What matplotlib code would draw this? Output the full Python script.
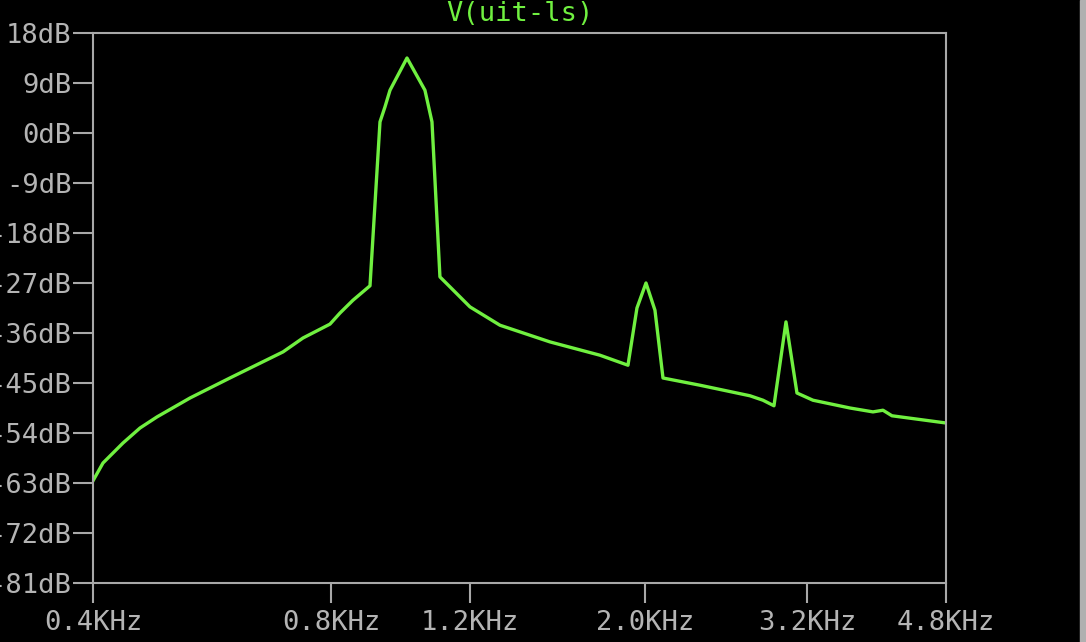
import matplotlib.pyplot as plt
from matplotlib.patches import Rectangle

# spectrum of V(uit-ls)
freq_hz = [400, 411.8, 436.5, 458.7, 482, 530.6, 596, 695.8, 737.4, 797.8, 821.4, 853,
           896.4, 922.9, 936.4, 950.2, 998.4, 1052, 1073.8, 1099, 1131.6, 1199.5, 1309,
           1514, 1751.8, 1900.6, 1951, 2003, 2056, 2104.7, 2344, 2711.7, 2816.5, 2908,
           3011.5, 3109.5, 3257.8, 3628.6, 3880, 3995, 4100.8, 4800]
level_db = [-62.6, -59.4, -55.8, -53.1, -51.1, -47.7, -44.1, -39.4, -36.9, -34.4, -32.4, -30.1,
            -27.5, 2.0, 4.7, 7.7, 13.5, 7.7, 2.0, -25.9, -27.7, -31.3, -34.6,
            -37.6, -40.0, -41.8, -31.5, -27.0, -31.9, -44.1, -45.4, -47.3, -48.1, -49.1,
            -34.0, -46.8, -48.1, -49.5, -50.2, -49.9, -50.9, -52.2]

xticks = [400, 800, 1200, 2000, 3200, 4800]
xtick_labels = ['0.4KHz', '0.8KHz', '1.2KHz', '2.0KHz', '3.2KHz', '4.8KHz']
yticks = list(range(-81, 19, 9))
ytick_labels = ['%ddB' % v for v in yticks]

grey = '#a8a8a8'
green = '#70f040'
plt.rcParams['font.family'] = 'DejaVu Sans Mono'

fig = plt.figure(figsize=(10.86, 6.42), dpi=100, facecolor='black')
ax = fig.add_axes([93 / 1086, 1 - 583 / 642, 853 / 1086, 550 / 642], facecolor='black')

ax.plot(freq_hz, level_db, color=green, lw=2.4)

ax.set_xscale('log')
ax.set_xlim(400, 4800)
ax.set_ylim(-81, 18)
ax.set_xticks(xticks)
ax.set_xticklabels(xtick_labels)
ax.minorticks_off()
ax.set_yticks(yticks)
ax.set_yticklabels(ytick_labels)

for s in ax.spines.values():
    s.set_color(grey)
    s.set_linewidth(1.5)
ax.tick_params(axis='both', colors=grey, labelcolor='#b4b4b4', labelsize=19.5,
               length=14.4, width=1.5, direction='out')
ax.tick_params(axis='x', pad=5)
ax.tick_params(axis='y', pad=1)

fig.text((93 + 946) / 2 / 1086, 1 - 14 / 642, 'V(uit-ls)', color=green, fontsize=19.5,
         ha='center', va='center')

# edge of the neighbouring window on the right
fig.patches.append(Rectangle((1080 / 1086, 0), 6 / 1086, 1, transform=fig.transFigure,
                             color='#b0b0b0', zorder=0))

fig.savefig('out.png', dpi=100, facecolor='black')
